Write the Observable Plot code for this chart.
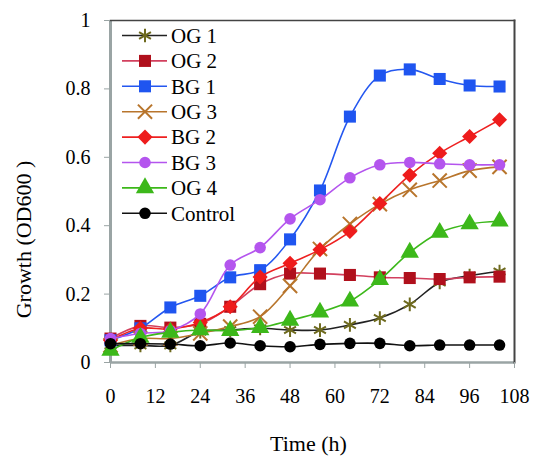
<!DOCTYPE html>
<html>
<head>
<meta charset="utf-8">
<script src="https://cdn.jsdelivr.net/npm/d3@7"></script>
<script src="https://cdn.jsdelivr.net/npm/@observablehq/plot@0.6"></script>
<style>
  html, body { margin: 0; padding: 0; background: #fff; }
  #chart { width: 534px; height: 456px; }
  #chart svg, #chart svg text { font-family: "Liberation Serif", "Times New Roman", Times, "DejaVu Serif", serif !important; }
</style>
</head>
<body>
<div id="chart"></div>
<script>
const times = [0, 8, 16, 24, 32, 40, 48, 56, 64, 72, 80, 88, 96, 104];
const xTicks = [0, 12, 24, 36, 48, 60, 72, 84, 96, 108];
const yTicks = [0, 0.2, 0.4, 0.6, 0.8, 1];

const seriesNames = ["OG 1", "OG 2", "BG 1", "OG 3", "BG 2", "BG 3", "OG 4", "Control"];
const og1 = [0.05, 0.05, 0.05, 0.09, 0.095, 0.10, 0.095, 0.095, 0.11, 0.13, 0.17, 0.234, 0.254, 0.266];
const og2 = [0.07, 0.107, 0.102, 0.113, 0.163, 0.229, 0.26, 0.26, 0.256, 0.249, 0.247, 0.244, 0.249, 0.251];
const bg1 = [0.065, 0.10, 0.161, 0.195, 0.249, 0.27, 0.36, 0.503, 0.719, 0.839, 0.857, 0.829, 0.81, 0.807];
const og3 = [0.05, 0.07, 0.07, 0.085, 0.105, 0.134, 0.224, 0.332, 0.405, 0.463, 0.505, 0.532, 0.561, 0.572];
const bg2 = [0.065, 0.10, 0.098, 0.117, 0.163, 0.25, 0.29, 0.33, 0.383, 0.465, 0.548, 0.612, 0.661, 0.71];
const bg3 = [0.07, 0.085, 0.093, 0.142, 0.285, 0.336, 0.42, 0.476, 0.54, 0.578, 0.585, 0.581, 0.578, 0.578];
const og4 = [0.035, 0.073, 0.088, 0.095, 0.093, 0.102, 0.123, 0.147, 0.179, 0.242, 0.322, 0.38, 0.405, 0.413];
const control = [0.055, 0.055, 0.054, 0.049, 0.057, 0.049, 0.046, 0.053, 0.056, 0.056, 0.049, 0.051, 0.051, 0.051];

const seriesValues = [og1, og2, bg1, og3, bg2, bg3, og4, control];
const lineColors = ["#222222", "#d2405e", "#2457f0", "#b8752c", "#ee2020", "#b455ee", "#3cb81a", "#111111"];
const markColors = ["#6e6a1e", "#b0101c", "#1f55f0", "#b8752c", "#ee1c1c", "#b455ee", "#3cb81a", "#000000"];
const symbols = ["asterisk", "square", "square", "times", "diamond2", "circle", "triangle", "circle"];
const radii = [6.5, 6.8, 6.8, 6.5, 6.8, 5.8, 6.8, 5.8];
const strokeOnly = [true, false, false, true, false, false, false, false];

const FONT = "'Liberation Serif', 'Times New Roman', Times, 'DejaVu Serif', serif";

const marks = [
  Plot.ruleX([0], {stroke: "#9aa4a4", strokeWidth: 3}),
  Plot.ruleY([0], {stroke: "#9aa4a4", strokeWidth: 2.5}),
  Plot.frame({stroke: "#444", strokeWidth: 1.5, anchor: "top"}),
  Plot.frame({stroke: "#444", strokeWidth: 2, anchor: "right"}),
  Plot.axisX({ticks: xTicks, tickSize: 6, tickPadding: 20, stroke: "#9aa4a4", fill: "#000", fontSize: 20, label: null, tickFormat: d => String(d)}),
  Plot.axisY({ticks: yTicks, tickSize: 6, tickPadding: 14, stroke: "#9aa4a4", fill: "#000", fontSize: 20, label: null, tickFormat: d => String(d)}),
  Plot.text(["Time (h)"], {frameAnchor: "bottom", dx: -4, dy: 81, fontSize: 22, fill: "#000", lineAnchor: "middle", textAnchor: "middle"}),
  Plot.text(["Growth (OD600 )"], {frameAnchor: "left", dx: -87, dy: 48, rotate: -90, fontSize: 22, fill: "#000", lineAnchor: "middle", textAnchor: "middle"})
];

seriesValues.forEach((vals, i) => {
  const data = times.map((t, j) => ({t, v: vals[j]}));
  marks.push(Plot.line(data, {x: "t", y: "v", stroke: lineColors[i], strokeWidth: 1.6, curve: "catmull-rom"}));
  if (strokeOnly[i]) {
    marks.push(Plot.dot(data, {x: "t", y: "v", symbol: symbols[i], r: radii[i], stroke: markColors[i], strokeWidth: 2, fill: "none"}));
  } else {
    marks.push(Plot.dot(data, {x: "t", y: "v", symbol: symbols[i], r: radii[i], fill: markColors[i], stroke: "none"}));
  }
});

const chart = Plot.plot({
  width: 534,
  height: 456,
  marginLeft: 110,
  marginRight: 20,
  marginTop: 20,
  marginBottom: 94,
  style: {fontFamily: FONT, fontSize: "20px", background: "#fff", color: "#000"},
  x: {domain: [0, 108]},
  y: {domain: [0, 1]},
  marks
});

// Legend (inside plot, top-left)
const svg = d3.select(chart);
const symMap = {
  asterisk: d3.symbolAsterisk, square: d3.symbolSquare, times: d3.symbolTimes,
  diamond2: d3.symbolDiamond2, circle: d3.symbolCircle, triangle: d3.symbolTriangle
};
const lg = svg.append("g").attr("class", "legend");
seriesNames.forEach((name, i) => {
  const y = 35.5 + i * 25.4;
  const g = lg.append("g");
  g.append("line").attr("x1", 122).attr("x2", 167).attr("y1", y).attr("y2", y)
    .attr("stroke", lineColors[i]).attr("stroke-width", 1.6);
  const path = d3.symbol(symMap[symbols[i]], radii[i] * radii[i] * Math.PI)();
  const p = g.append("path").attr("d", path).attr("transform", `translate(145,${y})`);
  if (strokeOnly[i]) p.attr("fill", "none").attr("stroke", markColors[i]).attr("stroke-width", 2);
  else p.attr("fill", markColors[i]);
  g.append("text").attr("x", 171).attr("y", y).attr("dy", "0.35em")
    .attr("text-anchor", "start")
    .attr("font-size", 21).attr("fill", "#000").text(name);
});

document.getElementById("chart").appendChild(chart);
</script>
</body>
</html>
